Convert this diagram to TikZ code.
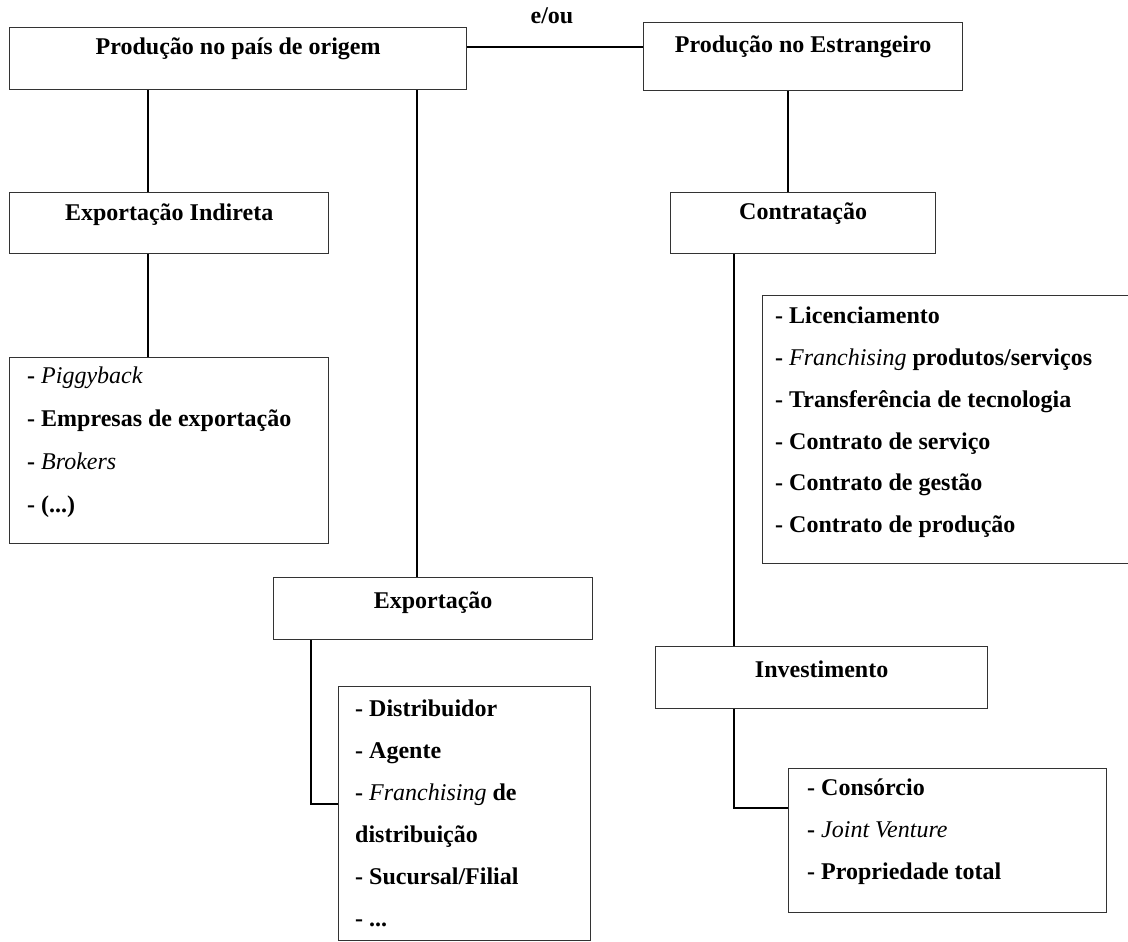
\documentclass[tikz,border=0pt]{standalone}
\usepackage{fontspec}
\setmainfont{Liberation Serif}
\definecolor{boxc}{HTML}{333333}
\tikzset{
  hbox/.style={draw=boxc, line width=1.3pt, inner xsep=0pt, inner ysep=0pt,
    anchor=north west, font=\fontsize{24}{28}\selectfont\bfseries},
  lbox/.style={draw=boxc, line width=1.3pt, inner sep=0pt, anchor=north west},
  item/.style={anchor=base west, inner sep=0pt, font=\fontsize{24}{28}\selectfont\bfseries},
  conn/.style={draw=black, line width=2.6pt}
}
\newcommand{\itw}[1]{{\mdseries\itshape #1}}
\begin{document}
\begin{tikzpicture}[x=1pt,y=-1pt]
\useasboundingbox (0,0) rectangle (1128,942);
\fill[white] (0,0) rectangle (1128,942);

% header boxes
\node[hbox, minimum width=457pt, text height=27pt, text depth=35pt] (p1) at (9,27) {Produção no país de origem};
\node[hbox, minimum width=319pt, text height=30pt, text depth=38pt] (p2) at (643,22) {Produção no Estrangeiro};
\node[hbox, minimum width=319pt, text height=28pt, text depth=33pt] (ind) at (9,192) {Exportação Indireta};
\node[hbox, minimum width=265pt, text height=27pt, text depth=34pt] (con) at (670,192) {Contratação};
\node[hbox, minimum width=319pt, text height=31pt, text depth=31pt] (exp) at (273,577) {Exportação};
\node[hbox, minimum width=332pt, text height=31pt, text depth=31pt] (inv) at (655,646) {Investimento};

\node[item, anchor=base] (eou) at (552,24) {e/ou};

% list boxes
\node[lbox, minimum width=319pt, minimum height=186pt] (L1) at (9,357) {};
\node[lbox, minimum width=372pt, minimum height=268pt] (L2) at (762,295) {};
\node[lbox, minimum width=252pt, minimum height=254pt] (L3) at (338,686) {};
\node[lbox, minimum width=318pt, minimum height=144pt] (L4) at (788,768) {};

% list items
\node[item] (a1) at (27,383) {- \itw{Piggyback}};
\node[item] (a2) at (27,426) {- Empresas de exportação};
\node[item] (a3) at (27,469) {- \itw{Brokers}};
\node[item] (a4) at (27,512) {- (...)};

\node[item] (b1) at (775,323) {- Licenciamento};
\node[item] (b2) at (775,365) {- \itw{Franchising} produtos/serviços};
\node[item] (b3) at (775,407) {- Transferência de tecnologia};
\node[item] (b4) at (775,449) {- Contrato de serviço};
\node[item] (b5) at (775,490) {- Contrato de gestão};
\node[item] (b6) at (775,532) {- Contrato de produção};

\node[item] (c1) at (355,716) {- Distribuidor};
\node[item] (c2) at (355,758) {- Agente};
\node[item] (c3) at (355,800) {- \itw{Franchising} de};
\node[item] (c4) at (355,842) {distribuição};
\node[item] (c5) at (355,884) {- Sucursal/Filial};
\node[item] (c6) at (355,926) {- ...};

\node[item] (d1) at (807,795) {- Consórcio};
\node[item] (d2) at (807,837) {- \itw{Joint Venture}};
\node[item] (d3) at (807,879) {- Propriedade total};

% connectors
\draw[conn] ([yshift=-20pt]p1.north east) -- ([yshift=-25pt]p2.north west);
\draw[conn] ([xshift=139pt]p1.south west) -- ([xshift=139pt]ind.north west);
\draw[conn] ([xshift=408pt]p1.south west) -- ([xshift=144pt]exp.north west);
\draw[conn] ([xshift=145pt]p2.south west) -- ([xshift=118pt]con.north west);
\draw[conn] ([xshift=139pt]ind.south west) -- ([xshift=139pt]L1.north west);
\draw[conn] ([xshift=64pt]con.south west) -- ([xshift=79pt]inv.north west);
\draw[conn] ([xshift=38pt]exp.south west) |- ([yshift=-118pt]L3.north west);
\draw[conn] ([xshift=79pt]inv.south west) |- ([yshift=-40pt]L4.north west);
\end{tikzpicture}
\end{document}
